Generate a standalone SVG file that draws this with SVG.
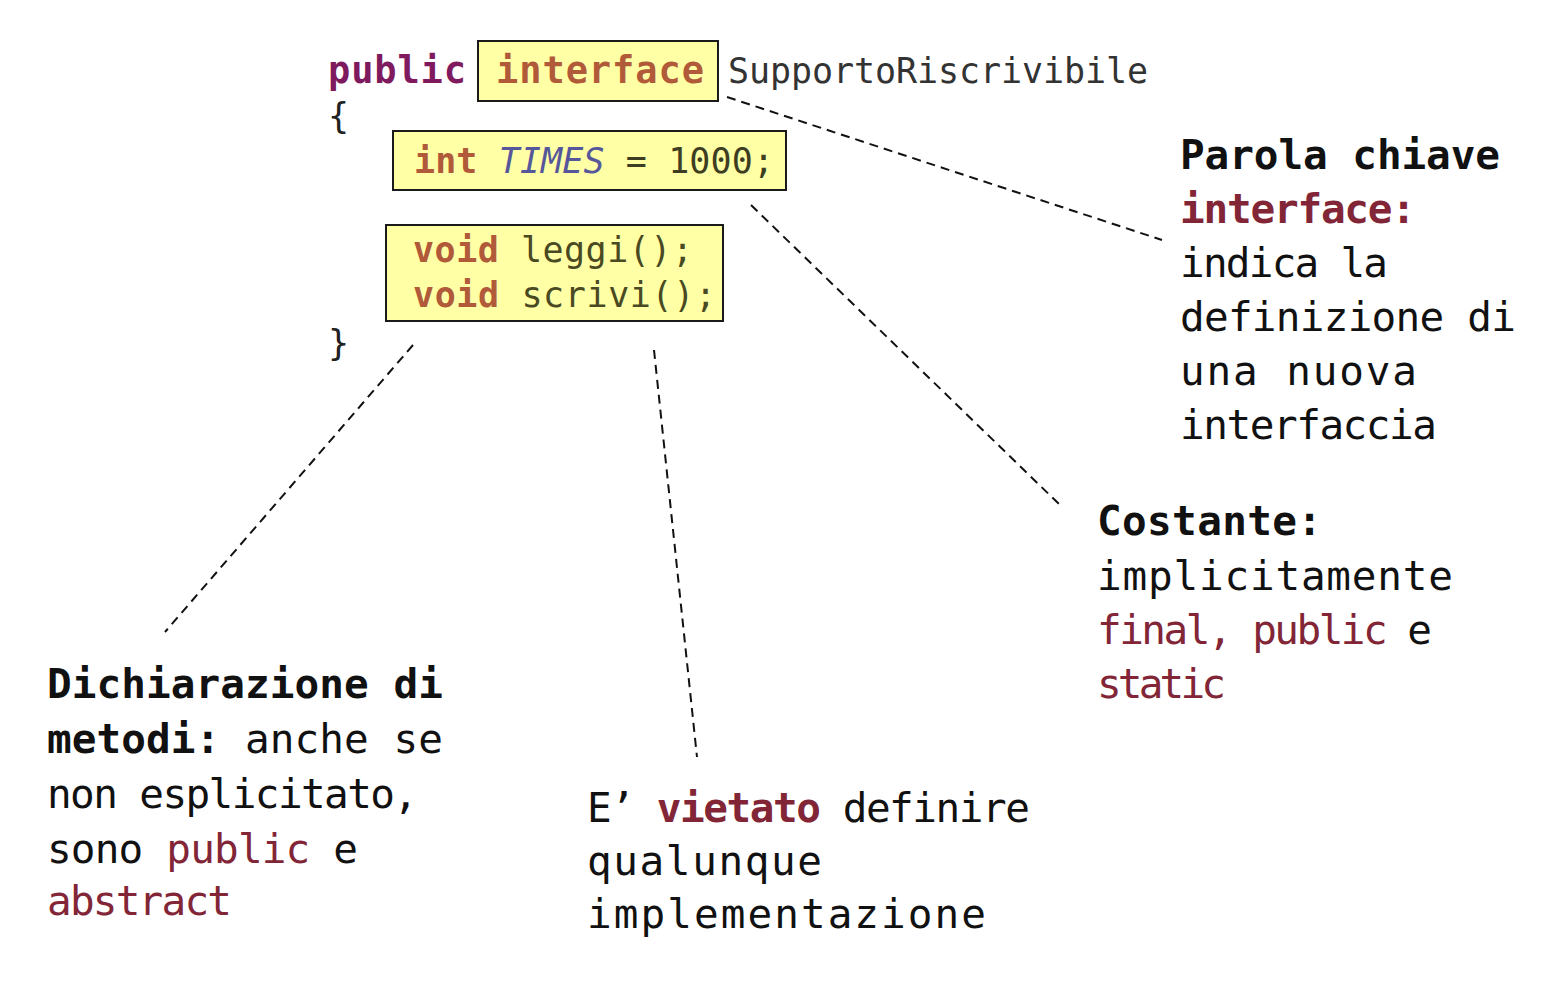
<svg xmlns="http://www.w3.org/2000/svg" width="1558" height="984" viewBox="0 0 1558 984">
<style>
.code{font-family:"DejaVu Sans Mono","Liberation Mono",monospace;font-size:35px;}
.kw{fill:#b05a3a;font-weight:bold;}
.box{fill:#ffffa6;stroke:#1a1a1a;stroke-width:2;}
.t{font-family:"DejaVu Sans Mono","Liberation Mono",monospace;font-size:41px;fill:#111;}
.b{font-weight:bold;}
.r{fill:#822637;}
.conn{stroke:#111;stroke-width:2;stroke-dasharray:9 6;fill:none;}
</style>
<rect width="1558" height="984" fill="#ffffff"/>
<g id="code">
  <text class="code" x="328" y="83" style="font-size:37px" fill="#7f1a5e" font-weight="bold" textLength="138" lengthAdjust="spacing">public</text>
  <g id="box-interface">
    <rect class="box" x="478" y="41" width="240" height="60"/>
    <text class="code kw" x="496" y="83" style="font-size:37px" textLength="208" lengthAdjust="spacing">interface</text>
  </g>
  <text class="code" x="728" y="83" fill="#333" textLength="420" lengthAdjust="spacing">SupportoRiscrivibile</text>
  <text class="code" x="328" y="128" fill="#222">{</text>
  <g id="box-const">
    <rect class="box" x="393" y="131" width="393" height="59"/>
    <text class="code" x="414" y="173" textLength="360" lengthAdjust="spacing"><tspan class="kw">int</tspan> <tspan fill="#56579a" font-style="italic">TIMES</tspan><tspan fill="#3d3d22"> = 1000;</tspan></text>
  </g>
  <g id="box-methods">
    <rect class="box" x="386" y="225" width="337" height="96"/>
    <text class="code" x="413" y="262" textLength="280" lengthAdjust="spacing"><tspan class="kw">void</tspan><tspan fill="#4a4a22"> leggi();</tspan></text>
    <text class="code" x="413" y="307" textLength="303" lengthAdjust="spacing"><tspan class="kw">void</tspan><tspan fill="#4a4a22"> scrivi();</tspan></text>
  </g>
  <text class="code" x="328" y="355" fill="#222">}</text>
</g>
<g id="connectors">
  <line class="conn" x1="727" y1="97" x2="1162" y2="240"/>
  <line class="conn" x1="751" y1="205" x2="1060" y2="505"/>
  <line class="conn" x1="654" y1="350" x2="697" y2="757"/>
  <line class="conn" x1="413" y1="345" x2="165" y2="632"/>
</g>
<g id="note-interface">
  <text class="t b" x="1180" y="169" textLength="320" lengthAdjust="spacing">Parola chiave</text>
  <text class="t b r" x="1180" y="223" textLength="236" lengthAdjust="spacing">interface:</text>
  <text class="t" x="1180" y="277" textLength="208" lengthAdjust="spacing">indica la</text>
  <text class="t" x="1180" y="331" textLength="336" lengthAdjust="spacing">definizione di</text>
  <text class="t" x="1180" y="385" textLength="237" lengthAdjust="spacing">una nuova</text>
  <text class="t" x="1180" y="439" textLength="257" lengthAdjust="spacing">interfaccia</text>
</g>
<g id="note-costante">
  <text class="t b" x="1097" y="535" textLength="225" lengthAdjust="spacing">Costante:</text>
  <text class="t" x="1097" y="590" textLength="356" lengthAdjust="spacing">implicitamente</text>
  <text class="t" x="1097" y="644" textLength="335" lengthAdjust="spacing"><tspan class="r">final, public</tspan> e</text>
  <text class="t r" x="1097" y="698" textLength="129" lengthAdjust="spacing">static</text>
</g>
<g id="note-metodi">
  <text class="t b" x="47" y="698" textLength="396" lengthAdjust="spacing">Dichiarazione di</text>
  <text class="t" x="47" y="753" textLength="396" lengthAdjust="spacing"><tspan class="b">metodi:</tspan> anche se</text>
  <text class="t" x="47" y="808" textLength="371" lengthAdjust="spacing">non esplicitato,</text>
  <text class="t" x="47" y="863" textLength="311" lengthAdjust="spacing">sono <tspan class="r">public</tspan> e</text>
  <text class="t r" x="47" y="915" textLength="185" lengthAdjust="spacing">abstract</text>
</g>
<g id="note-vietato">
  <text class="t" x="587" y="822" textLength="443" lengthAdjust="spacing">E’ <tspan class="b r">vietato</tspan> definire</text>
  <text class="t" x="587" y="875" textLength="235" lengthAdjust="spacing">qualunque</text>
  <text class="t" x="587" y="928" textLength="399" lengthAdjust="spacing">implementazione</text>
</g>
</svg>
